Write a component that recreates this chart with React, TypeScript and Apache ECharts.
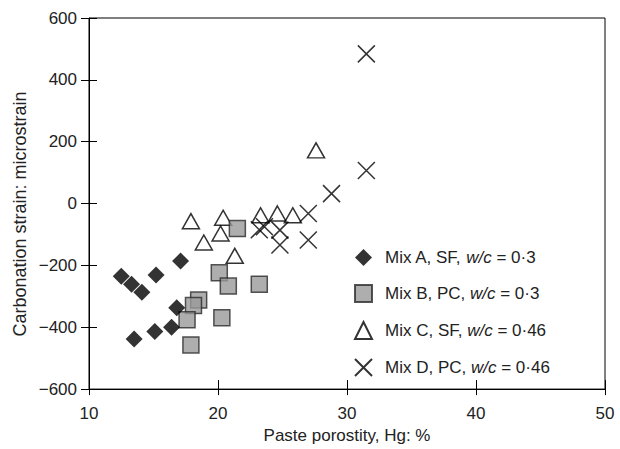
import React, { useEffect, useRef } from "react";
import * as echarts from "echarts";

const mixA: number[][] = [[12.5, -235], [13.3, -261], [14.1, -287], [15.2, -231], [17.1, -186], [16.8, -337], [13.5, -438], [15.1, -414], [16.4, -400]];
const mixB: number[][] = [[21.5, -81], [20.1, -224], [20.8, -267], [23.2, -261], [18.5, -312], [18.1, -330], [17.6, -376], [20.3, -369], [17.9, -457]];
const mixC: number[][] = [[17.9, -57], [20.4, -46], [20.2, -97], [18.9, -126], [21.3, -169], [23.3, -38], [24.6, -32], [25.8, -38], [27.6, 172]];
const mixD: number[][] = [[23.2, -85], [23.6, -75], [24.8, -86], [24.8, -134], [27.0, -32], [27.0, -118], [28.8, 32], [31.5, 107], [31.5, 484]];

const legendNames = ["Mix A, SF, w/c = 0·3", "Mix B, PC, w/c = 0·3", "Mix C, SF, w/c = 0·46", "Mix D, PC, w/c = 0·46"];
const xLabel = "Paste porostity, Hg: %";
const yLabel = "Carbonation strain: microstrain";

const FONT = "'Liberation Sans', Arial, sans-serif";
const TXT = "#222";

export default function App() {
  const ref = useRef<HTMLDivElement>(null);
  useEffect(() => {
    if (!ref.current) return;
    const chart = echarts.init(ref.current, undefined, { renderer: "svg" });
    const fmtY = (v: number) => (v < 0 ? "\u2212" + Math.abs(v) : String(v));
    const axisCommonX = { type: "value", min: 10, max: 50, interval: 10 };
    const axisCommonY = { type: "value", min: -600, max: 600, interval: 200 };
    chart.setOption({
      animation: false,
      textStyle: { fontFamily: FONT },
      grid: { left: 89, right: 15, top: 18, bottom: 57, show: true, borderColor: "#000", borderWidth: 1, backgroundColor: "transparent" },
      graphic: [
        {
          type: "text",
          x: 20,
          y: 214,
          rotation: Math.PI / 2,
          style: { text: yLabel, fontSize: 18, fontFamily: FONT, fill: TXT, align: "center", verticalAlign: "middle" },
        },
      ],
      legend: {
        orient: "vertical",
        left: 349,
        top: 244,
        itemWidth: 17,
        itemHeight: 17,
        itemGap: 18,
        data: legendNames,
        formatter: (name: string) => {
          const parts = name.split("w/c");
          return "{n|" + parts[0] + "}{i|w/c}{m|" + parts[1] + "}";
        },
        textStyle: {
          rich: {
            n: { fontSize: 17, fontFamily: FONT, color: TXT, padding: [0, 0, 0, 8], lineHeight: 18 },
            i: { fontSize: 17, fontFamily: FONT, color: TXT, fontStyle: "italic", lineHeight: 18 },
            m: { fontSize: 17, fontFamily: FONT, color: TXT, lineHeight: 18 },
          },
        },
      },
      xAxis: [
        {
          ...axisCommonX,
          position: "bottom",
          name: xLabel,
          nameLocation: "middle",
          nameGap: 33,
          nameTextStyle: { fontSize: 17, color: TXT, fontFamily: FONT },
          axisLine: { show: true, onZero: false, lineStyle: { color: "#000", width: 1 } },
          axisTick: { show: true, inside: false, length: 6, lineStyle: { color: "#000" } },
          axisLabel: { fontSize: 17, color: TXT, margin: 16, fontFamily: FONT },
          splitLine: { show: false },
        },
        {
          ...axisCommonX,
          position: "bottom",
          axisLine: { show: false, onZero: false },
          axisTick: { show: true, inside: true, length: 9, lineStyle: { color: "#000" } },
          axisLabel: { show: false },
          splitLine: { show: false },
        },
      ],
      yAxis: [
        {
          ...axisCommonY,
          position: "left",
          axisLine: { show: true, onZero: false, lineStyle: { color: "#000", width: 1 } },
          axisTick: { show: true, inside: false, length: 8, lineStyle: { color: "#000" } },
          axisLabel: { fontSize: 17, color: TXT, margin: 12, fontFamily: FONT, formatter: fmtY },
          splitLine: { show: false },
        },
        {
          ...axisCommonY,
          position: "left",
          axisLine: { show: false, onZero: false },
          axisTick: { show: true, inside: true, length: 8, lineStyle: { color: "#000" } },
          axisLabel: { show: false },
          splitLine: { show: false },
        },
      ],
      series: [
        {
          name: legendNames[2],
          type: "scatter",
          data: mixC,
          symbol: "triangle",
          symbolSize: [17, 15],
          itemStyle: { color: "rgba(255,255,255,0)", borderColor: "#000", borderWidth: 1.5 },
          z: 2,
        },
        {
          name: legendNames[3],
          type: "scatter",
          data: mixD,
          symbol: "path://M0,0L10,10M10,0L0,10",
          symbolSize: 17,
          itemStyle: { color: "rgba(0,0,0,0)", borderColor: "#000", borderWidth: 1.5 },
          z: 3,
        },
        {
          name: legendNames[1],
          type: "scatter",
          data: mixB,
          symbol: "rect",
          symbolSize: 16,
          itemStyle: { color: "#9a9a9a", borderColor: "#2a2a2a", borderWidth: 1.5 },
          z: 4,
        },
        {
          name: legendNames[0],
          type: "scatter",
          data: mixA,
          symbol: "diamond",
          symbolSize: 17,
          itemStyle: { color: "#000", borderWidth: 0 },
          z: 5,
        },
      ],
    });
    return () => chart.dispose();
  }, []);
  return <div ref={ref} style={{ width: 620, height: 449, position: "absolute", left: 0, top: 0 }} />;
}
